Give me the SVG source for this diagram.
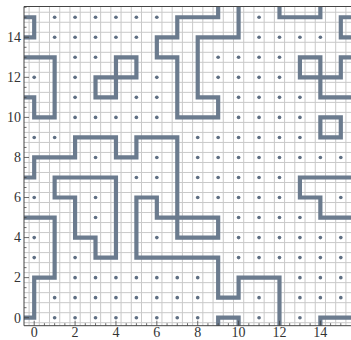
<svg xmlns="http://www.w3.org/2000/svg" width="351" height="340" viewBox="0 0 351 340">
<defs>
<style>
.grid line{stroke:#c9c9c9;stroke-width:1}
.wall{fill:none;stroke:#6b7b8e;stroke-width:4.2;stroke-linejoin:miter;stroke-linecap:butt;vector-effect:non-scaling-stroke}
.dot circle{fill:#5f6f83}
.axis{stroke:#444;stroke-width:1;fill:none}
.tick{stroke:#444;stroke-width:0.8}
.lbl{font-family:"Liberation Serif","DejaVu Serif",serif;font-size:14px;fill:#333}
</style>
<clipPath id="plot"><rect x="24" y="6.5" width="327" height="319.2"/></clipPath>
</defs>
<rect x="0" y="0" width="351" height="340" fill="#fff"/>
<g class="grid" clip-path="url(#plot)" id="grid">
<line x1="29.09" y1="6.5" x2="29.09" y2="325.7"/><line x1="39.31" y1="6.5" x2="39.31" y2="325.7"/>
<line x1="49.53" y1="6.5" x2="49.53" y2="325.7"/><line x1="59.75" y1="6.5" x2="59.75" y2="325.7"/>
<line x1="69.97" y1="6.5" x2="69.97" y2="325.7"/><line x1="80.19" y1="6.5" x2="80.19" y2="325.7"/>
<line x1="90.41" y1="6.5" x2="90.41" y2="325.7"/><line x1="100.63" y1="6.5" x2="100.63" y2="325.7"/>
<line x1="110.85" y1="6.5" x2="110.85" y2="325.7"/><line x1="121.07" y1="6.5" x2="121.07" y2="325.7"/>
<line x1="131.29" y1="6.5" x2="131.29" y2="325.7"/><line x1="141.51" y1="6.5" x2="141.51" y2="325.7"/>
<line x1="151.73" y1="6.5" x2="151.73" y2="325.7"/><line x1="161.95" y1="6.5" x2="161.95" y2="325.7"/>
<line x1="172.17" y1="6.5" x2="172.17" y2="325.7"/><line x1="182.39" y1="6.5" x2="182.39" y2="325.7"/>
<line x1="192.61" y1="6.5" x2="192.61" y2="325.7"/><line x1="202.83" y1="6.5" x2="202.83" y2="325.7"/>
<line x1="213.05" y1="6.5" x2="213.05" y2="325.7"/><line x1="223.27" y1="6.5" x2="223.27" y2="325.7"/>
<line x1="233.49" y1="6.5" x2="233.49" y2="325.7"/><line x1="243.71" y1="6.5" x2="243.71" y2="325.7"/>
<line x1="253.93" y1="6.5" x2="253.93" y2="325.7"/><line x1="264.15" y1="6.5" x2="264.15" y2="325.7"/>
<line x1="274.37" y1="6.5" x2="274.37" y2="325.7"/><line x1="284.59" y1="6.5" x2="284.59" y2="325.7"/>
<line x1="294.81" y1="6.5" x2="294.81" y2="325.7"/><line x1="305.03" y1="6.5" x2="305.03" y2="325.7"/>
<line x1="315.25" y1="6.5" x2="315.25" y2="325.7"/><line x1="325.47" y1="6.5" x2="325.47" y2="325.7"/>
<line x1="335.69" y1="6.5" x2="335.69" y2="325.7"/><line x1="345.91" y1="6.5" x2="345.91" y2="325.7"/>
<line x1="24" y1="322.71" x2="351" y2="322.71"/><line x1="24" y1="312.69" x2="351" y2="312.69"/>
<line x1="24" y1="302.68" x2="351" y2="302.68"/><line x1="24" y1="292.66" x2="351" y2="292.66"/>
<line x1="24" y1="282.65" x2="351" y2="282.65"/><line x1="24" y1="272.63" x2="351" y2="272.63"/>
<line x1="24" y1="262.62" x2="351" y2="262.62"/><line x1="24" y1="252.60" x2="351" y2="252.60"/>
<line x1="24" y1="242.59" x2="351" y2="242.59"/><line x1="24" y1="232.57" x2="351" y2="232.57"/>
<line x1="24" y1="222.56" x2="351" y2="222.56"/><line x1="24" y1="212.54" x2="351" y2="212.54"/>
<line x1="24" y1="202.53" x2="351" y2="202.53"/><line x1="24" y1="192.51" x2="351" y2="192.51"/>
<line x1="24" y1="182.50" x2="351" y2="182.50"/><line x1="24" y1="172.48" x2="351" y2="172.48"/>
<line x1="24" y1="162.47" x2="351" y2="162.47"/><line x1="24" y1="152.45" x2="351" y2="152.45"/>
<line x1="24" y1="142.44" x2="351" y2="142.44"/><line x1="24" y1="132.42" x2="351" y2="132.42"/>
<line x1="24" y1="122.41" x2="351" y2="122.41"/><line x1="24" y1="112.39" x2="351" y2="112.39"/>
<line x1="24" y1="102.38" x2="351" y2="102.38"/><line x1="24" y1="92.36" x2="351" y2="92.36"/>
<line x1="24" y1="82.35" x2="351" y2="82.35"/><line x1="24" y1="72.33" x2="351" y2="72.33"/>
<line x1="24" y1="62.32" x2="351" y2="62.32"/><line x1="24" y1="52.30" x2="351" y2="52.30"/>
<line x1="24" y1="42.29" x2="351" y2="42.29"/><line x1="24" y1="32.27" x2="351" y2="32.27"/>
<line x1="24" y1="22.26" x2="351" y2="22.26"/><line x1="24" y1="12.24" x2="351" y2="12.24"/>
</g>
<g id="dots" clip-path="url(#plot)">
<g transform="matrix(20.44 0 0 -20.03 34.2 317.7)" class="dot">
<circle cx="1" cy="15" r="0.09"/><circle cx="2" cy="15" r="0.09"/><circle cx="3" cy="15" r="0.09"/><circle cx="4" cy="15" r="0.09"/><circle cx="5" cy="15" r="0.09"/><circle cx="6" cy="15" r="0.09"/><circle cx="11" cy="15" r="0.09"/>
<circle cx="1" cy="14" r="0.09"/><circle cx="2" cy="14" r="0.09"/><circle cx="3" cy="14" r="0.09"/><circle cx="4" cy="14" r="0.09"/><circle cx="5" cy="14" r="0.09"/><circle cx="11" cy="14" r="0.09"/><circle cx="12" cy="14" r="0.09"/><circle cx="13" cy="14" r="0.09"/><circle cx="14" cy="14" r="0.09"/>
<circle cx="2" cy="13" r="0.09"/><circle cx="3" cy="13" r="0.09"/><circle cx="9" cy="13" r="0.09"/><circle cx="10" cy="13" r="0.09"/><circle cx="11" cy="13" r="0.09"/><circle cx="12" cy="13" r="0.09"/>
<circle cx="0" cy="12" r="0.09"/><circle cx="2" cy="12" r="0.09"/><circle cx="6" cy="12" r="0.09"/><circle cx="9" cy="12" r="0.09"/><circle cx="10" cy="12" r="0.09"/><circle cx="11" cy="12" r="0.09"/><circle cx="12" cy="12" r="0.09"/>
<circle cx="2" cy="11" r="0.09"/><circle cx="5" cy="11" r="0.09"/><circle cx="6" cy="11" r="0.09"/><circle cx="10" cy="11" r="0.09"/><circle cx="11" cy="11" r="0.09"/><circle cx="12" cy="11" r="0.09"/><circle cx="13" cy="11" r="0.09"/>
<circle cx="2" cy="10" r="0.09"/><circle cx="3" cy="10" r="0.09"/><circle cx="4" cy="10" r="0.09"/><circle cx="5" cy="10" r="0.09"/><circle cx="6" cy="10" r="0.09"/><circle cx="10" cy="10" r="0.09"/><circle cx="11" cy="10" r="0.09"/><circle cx="12" cy="10" r="0.09"/><circle cx="13" cy="10" r="0.09"/>
<circle cx="0" cy="9" r="0.09"/><circle cx="1" cy="9" r="0.09"/><circle cx="8" cy="9" r="0.09"/><circle cx="9" cy="9" r="0.09"/><circle cx="10" cy="9" r="0.09"/><circle cx="11" cy="9" r="0.09"/><circle cx="12" cy="9" r="0.09"/><circle cx="13" cy="9" r="0.09"/>
<circle cx="3" cy="8" r="0.09"/><circle cx="6" cy="8" r="0.09"/><circle cx="8" cy="8" r="0.09"/><circle cx="9" cy="8" r="0.09"/><circle cx="10" cy="8" r="0.09"/><circle cx="11" cy="8" r="0.09"/><circle cx="12" cy="8" r="0.09"/><circle cx="13" cy="8" r="0.09"/><circle cx="14" cy="8" r="0.09"/><circle cx="15" cy="8" r="0.09"/>
<circle cx="5" cy="7" r="0.09"/><circle cx="6" cy="7" r="0.09"/><circle cx="8" cy="7" r="0.09"/><circle cx="9" cy="7" r="0.09"/><circle cx="10" cy="7" r="0.09"/><circle cx="11" cy="7" r="0.09"/><circle cx="12" cy="7" r="0.09"/>
<circle cx="0" cy="6" r="0.09"/><circle cx="3" cy="6" r="0.09"/><circle cx="8" cy="6" r="0.09"/><circle cx="9" cy="6" r="0.09"/><circle cx="10" cy="6" r="0.09"/><circle cx="11" cy="6" r="0.09"/><circle cx="12" cy="6" r="0.09"/><circle cx="15" cy="6" r="0.09"/>
<circle cx="3" cy="5" r="0.09"/><circle cx="10" cy="5" r="0.09"/><circle cx="11" cy="5" r="0.09"/><circle cx="12" cy="5" r="0.09"/><circle cx="13" cy="5" r="0.09"/>
<circle cx="0" cy="4" r="0.09"/><circle cx="6" cy="4" r="0.09"/><circle cx="10" cy="4" r="0.09"/><circle cx="11" cy="4" r="0.09"/><circle cx="12" cy="4" r="0.09"/><circle cx="13" cy="4" r="0.09"/><circle cx="14" cy="4" r="0.09"/><circle cx="15" cy="4" r="0.09"/>
<circle cx="0" cy="3" r="0.09"/><circle cx="2" cy="3" r="0.09"/><circle cx="10" cy="3" r="0.09"/><circle cx="11" cy="3" r="0.09"/><circle cx="12" cy="3" r="0.09"/><circle cx="13" cy="3" r="0.09"/><circle cx="14" cy="3" r="0.09"/><circle cx="15" cy="3" r="0.09"/>
<circle cx="2" cy="2" r="0.09"/><circle cx="3" cy="2" r="0.09"/><circle cx="4" cy="2" r="0.09"/><circle cx="5" cy="2" r="0.09"/><circle cx="6" cy="2" r="0.09"/><circle cx="7" cy="2" r="0.09"/><circle cx="8" cy="2" r="0.09"/><circle cx="13" cy="2" r="0.09"/><circle cx="14" cy="2" r="0.09"/><circle cx="15" cy="2" r="0.09"/>
<circle cx="1" cy="1" r="0.09"/><circle cx="2" cy="1" r="0.09"/><circle cx="3" cy="1" r="0.09"/><circle cx="4" cy="1" r="0.09"/><circle cx="5" cy="1" r="0.09"/><circle cx="6" cy="1" r="0.09"/><circle cx="7" cy="1" r="0.09"/><circle cx="8" cy="1" r="0.09"/><circle cx="11" cy="1" r="0.09"/><circle cx="13" cy="1" r="0.09"/><circle cx="14" cy="1" r="0.09"/><circle cx="15" cy="1" r="0.09"/>
<circle cx="1" cy="0" r="0.09"/><circle cx="2" cy="0" r="0.09"/><circle cx="3" cy="0" r="0.09"/><circle cx="4" cy="0" r="0.09"/><circle cx="5" cy="0" r="0.09"/><circle cx="6" cy="0" r="0.09"/><circle cx="7" cy="0" r="0.09"/><circle cx="8" cy="0" r="0.09"/><circle cx="11" cy="0" r="0.09"/><circle cx="13" cy="0" r="0.09"/>
</g>
</g>
<g id="connectors" clip-path="url(#plot)">
<g transform="matrix(20.44 0 0 -20.03 34.2 317.7)">
<path class="wall" d="M-0.7 15 H0 V14 H-0.7"/>
<path class="wall" d="M-0.7 13 H1 V10 H0 V11 H-0.7"/>
<path class="wall" d="M4 13 H5 V12 H3 V11 H4 Z"/>
<path class="wall" d="M9 15.7 V15 H7 V14 H6 V13 H7 V10 H9 V11 H8 V14 H10 V15.7"/>
<path class="wall" d="M-0.7 7 H0 V8 H2 V9 H4 V8 H5 V9 H7 V4 H9 V5 H6 V6 H5 V3 H9 V1 H10 V2 H12 V-0.7"/>
<path class="wall" d="M1 7 H4 V3 H3 V4 H2 V6 H1 Z"/>
<path class="wall" d="M-0.7 5 H1 V2 H0 V0 H-0.7"/>
<path class="wall" d="M9 -0.7 V0 H10 V-0.7"/>
<path class="wall" d="M14 -0.7 V0 H15.7"/>
<path class="wall" d="M15.7 7 H13 V6 H14 V5 H15.7"/>
<path class="wall" d="M14 9 H15 V10 H14 Z"/>
<path class="wall" d="M15.7 13 H15 V12 H13 V13 H14 V11 H15.7"/>
<path class="wall" d="M15.7 15 H15 V14 H15.7"/>
<path class="wall" d="M12 15.7 V15 H14 V15.7"/>
</g>
</g>
<g id="frame">
<path class="axis" d="M24 6.5 H351 M24 6.5 V325.7 H351"/>
<path class="tick" d="M34.2 325.7v-5 M44.42 325.7v-2.5 M54.64 325.7v-2.5 M64.86 325.7v-2.5 M75.08 325.7v-5 M85.3 325.7v-2.5 M95.52 325.7v-2.5 M105.74 325.7v-2.5 M115.96 325.7v-5 M126.18 325.7v-2.5 M136.4 325.7v-2.5 M146.62 325.7v-2.5 M156.84 325.7v-5 M167.06 325.7v-2.5 M177.28 325.7v-2.5 M187.5 325.7v-2.5 M197.72 325.7v-5 M207.94 325.7v-2.5 M218.16 325.7v-2.5 M228.38 325.7v-2.5 M238.6 325.7v-5 M248.82 325.7v-2.5 M259.04 325.7v-2.5 M269.26 325.7v-2.5 M279.48 325.7v-5 M289.7 325.7v-2.5 M299.92 325.7v-2.5 M310.14 325.7v-2.5 M320.36 325.7v-5 M330.58 325.7v-2.5 M340.8 325.7v-2.5"/>
<path class="tick" d="M24 317.7h5 M24 307.69h2.5 M24 297.67h2.5 M24 287.66h2.5 M24 277.64h5 M24 267.63h2.5 M24 257.61h2.5 M24 247.6h2.5 M24 237.58h5 M24 227.57h2.5 M24 217.55h2.5 M24 207.54h2.5 M24 197.52h5 M24 187.51h2.5 M24 177.49h2.5 M24 167.48h2.5 M24 157.46h5 M24 147.45h2.5 M24 137.43h2.5 M24 127.42h2.5 M24 117.4h5 M24 107.39h2.5 M24 97.37h2.5 M24 87.36h2.5 M24 77.34h5 M24 67.33h2.5 M24 57.31h2.5 M24 47.3h2.5 M24 37.28h5 M24 27.27h2.5 M24 17.25h2.5 M24 7.24h2.5"/>
</g>
<g id="xlabels" class="lbl" text-anchor="middle">
<text x="34.2" y="337">0</text><text x="75.08" y="337">2</text><text x="115.96" y="337">4</text><text x="156.84" y="337">6</text>
<text x="197.72" y="337">8</text><text x="238.6" y="337">10</text><text x="279.48" y="337">12</text><text x="320.36" y="337">14</text>
</g>
<g id="ylabels" class="lbl" text-anchor="end">
<text x="21" y="322.5">0</text><text x="21" y="282.4">2</text><text x="21" y="242.4">4</text><text x="21" y="202.3">6</text>
<text x="21" y="162.3">8</text><text x="21" y="122.2">10</text><text x="21" y="82.1">12</text><text x="21" y="42.1">14</text>
</g>
</svg>
